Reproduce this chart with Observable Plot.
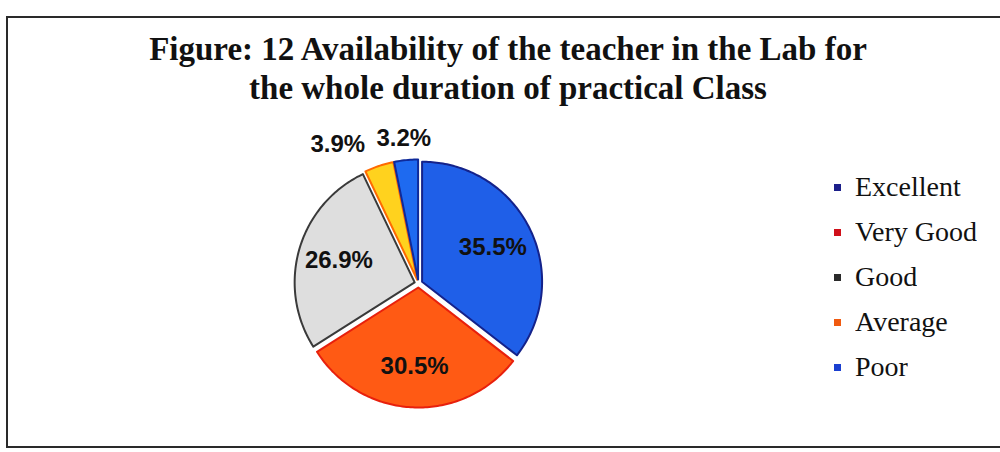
<!DOCTYPE html>
<html><head><meta charset="utf-8">
<script src="https://cdn.jsdelivr.net/npm/d3@7"></script>
<script src="https://cdn.jsdelivr.net/npm/@observablehq/plot@0.6"></script>
<style>
html,body{margin:0;padding:0;background:#fff;width:1000px;height:452px;overflow:hidden;position:relative}
#frame{position:absolute;left:6px;top:16px;width:1010px;height:432px;border:2px solid #2a2a2a;box-sizing:border-box}
#title{position:absolute;left:0;width:1016px;top:30px;text-align:center;font:bold 33px "Liberation Serif",serif;line-height:39px;color:#111}
#chart{position:absolute;left:0;top:0}
#legend{position:absolute;left:834px;top:165px}
.lg-swatches{font-family:"Liberation Serif",serif !important;font-size:28px !important;color:#111 !important;margin:0 !important}
.lg-swatch{height:44px;}
</style></head><body>
<div id="frame"></div>
<div id="chart"></div>
<div id="title">Figure: 12 Availability of the teacher in the Lab for<br>the whole duration of practical Class</div>
<div id="legend"></div>
<script>
const categories = ["Excellent", "Very Good", "Good", "Average", "Poor"];
const percents = [35.5, 30.5, 26.9, 3.9, 3.2];
const sliceFills = ["#1f5fe8", "#ff5a14", "#dedede", "#ffd21e", "#1e6af0"];
const sliceStrokes = ["#14228a", "#e8200c", "#3a3a3a", "#ff6a00", "#0e2a9a"];
const legendColors = ["#1b1f8a", "#d0101a", "#2a2a2a", "#f05a10", "#1a3fd0"];

const W = 1000, H = 452, cx = 418, cy = 283, R = 120;
const explode = 4 / R;
const arcs = d3.pie().sort(null).value(d => d)(percents);

const slices = arcs.map((a, i) => {
  const mid = (a.startAngle + a.endAngle) / 2;
  const ox = explode * Math.sin(mid), oy = explode * Math.cos(mid);
  const pts = [{x: ox, y: oy}];
  const n = Math.max(2, Math.ceil((a.endAngle - a.startAngle) / (Math.PI / 180)));
  for (let k = 0; k <= n; k++) {
    const t = a.startAngle + (a.endAngle - a.startAngle) * k / n;
    pts.push({x: ox + Math.sin(t), y: oy + Math.cos(t)});
  }
  return {i, mid, pts};
});

// label placement: inside for big slices, outside (with overlap avoidance) for small ones
const labelData = slices.map(s => {
  const inside = percents[s.i] > 10;
  const r = inside ? 0.69 : 1.22;
  return {text: percents[s.i].toFixed(1) + "%", x: r * Math.sin(s.mid), y: r * Math.cos(s.mid), inside, mid: s.mid};
});
const outside = labelData.filter(d => !d.inside).sort((a, b) => b.mid - a.mid);
const halfW = 28 / R, gap = 10 / R;
for (let k = 1; k < outside.length; k++) {
  const prev = outside[k - 1];
  const maxX = prev.x - 2 * halfW - gap;
  if (outside[k].x > maxX) outside[k].x = maxX;
}

const chart = Plot.plot({
  width: W, height: H,
  margin: 0,
  x: {domain: [-cx / R, (W - cx) / R], range: [0, W], axis: null},
  y: {domain: [-(H - cy) / R, cy / R], range: [H, 0], axis: null},
  marks: [
    ...slices.map(s => Plot.line(s.pts, {x: "x", y: "y", fill: sliceFills[s.i], stroke: sliceStrokes[s.i], strokeWidth: 2, curve: "linear-closed", strokeLinejoin: "round"})),
    Plot.text(labelData, {x: "x", y: "y", text: "text", fontFamily: "Liberation Sans", fontWeight: "bold", fontSize: 24, fill: "#111"})
  ]
});
document.getElementById("chart").append(chart);

const legend = Plot.legend({
  color: {type: "ordinal", domain: categories, range: legendColors},
  legend: "swatches", columns: 1, swatchSize: 7, className: "lg"
});
document.getElementById("legend").append(legend);
</script>
</body></html>
